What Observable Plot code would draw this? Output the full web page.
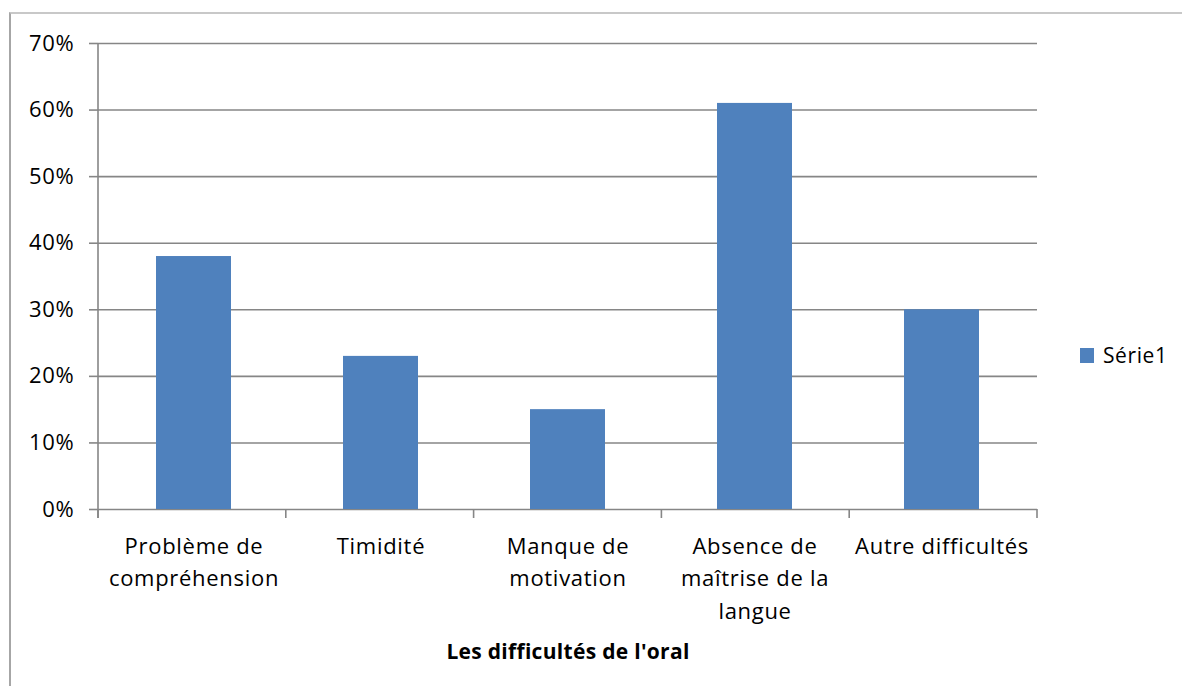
<!DOCTYPE html>
<html>
<head>
<meta charset="utf-8">
<script src="https://cdn.jsdelivr.net/npm/d3@7"></script>
<script src="https://cdn.jsdelivr.net/npm/@observablehq/plot@0.6"></script>
<style>
  html, body { margin: 0; padding: 0; background: #fff; }
  #wrap { position: relative; width: 1182px; height: 686px; overflow: hidden; font-family: "Open Sans", sans-serif; }
  #border { position: absolute; left: 9px; top: 12px; right: -5px; bottom: -5px; border-top: 2px solid #c8c8c8; border-left: 2px solid #a6a6a6; }
  #chart { position: absolute; left: 0; top: 0; }
  #legend { position: absolute; left: 1080px; top: 341px; display: flex; align-items: center; font-size: 21px; letter-spacing: 0.6px; color: #000; }
  #legend .sw { width: 14px; height: 15px; background: #4f81bd; margin-right: 9px; }
  .xtitle text { letter-spacing: 0.3px; }
</style>
</head>
<body>
<div id="wrap">
  <div id="border"></div>
  <div id="chart"></div>
  <div id="legend"></div>
</div>
<script>
const categories = ["Problème de compréhension", "Timidité", "Manque de motivation", "Absence de maîtrise de la langue", "Autre difficultés"];
const tickLabels = ["Problème de\ncompréhension", "Timidité", "Manque de\nmotivation", "Absence de\nmaîtrise de la\nlangue", "Autre difficultés"];
const values = [0.38, 0.23, 0.15, 0.61, 0.30];
const yTicks = [0, 0.1, 0.2, 0.3, 0.4, 0.5, 0.6, 0.7];
const seriesName = "Série1";
const xTitle = "Les difficultés de l'oral";
const barColor = "#4f81bd";

const data = categories.map((c, i) => ({category: c, value: values[i]}));
const labelOf = new Map(categories.map((c, i) => [c, tickLabels[i]]));

const chart = Plot.plot({
  width: 1182,
  height: 686,
  marginLeft: 98,
  marginRight: 145,
  marginTop: 43,
  marginBottom: 177,
  style: {fontFamily: "'Open Sans', sans-serif", fontSize: "21px", letterSpacing: "0.7px", color: "#000", background: "transparent", overflow: "visible"},
  x: {domain: categories, paddingInner: 0.6, paddingOuter: 0.3},
  y: {domain: [0, 0.7]},
  marks: [
    Plot.ruleY(yTicks, {stroke: "#868686", strokeWidth: 1.6}),
    Plot.barY(data, {x: "category", y: "value", fill: barColor}),
    Plot.axisY({ticks: yTicks, tickFormat: d => Math.round(d * 100) + "%", tickSize: 9, tickPadding: 15, stroke: "#868686", strokeWidth: 1.6, label: null, fontSize: 22, fill: "#000"}),
    Plot.axisX({tickFormat: d => labelOf.get(d), tickSize: 0, tickPadding: 21, lineHeight: 1.48, label: null, fontSize: 22, fill: "#000"}),
    Plot.text([xTitle], {frameAnchor: "bottom", dy: 149, text: d => d, fontSize: 21, fontWeight: "bold", fill: "#000", className: "xtitle"})
  ]
});

// axis line and category boundary ticks from the chart's own scales
const xs = chart.scale("x"), ys = chart.scale("y");
const [x0, x1] = xs.range;
const yBottom = ys.apply(0), yTop = ys.apply(0.7);
const g = d3.select(chart).append("g").attr("stroke", "#868686").attr("stroke-width", 1.6);
g.append("line").attr("x1", x0).attr("x2", x0).attr("y1", yTop).attr("y2", yBottom + 9);
const n = categories.length;
for (let i = 0; i <= n; i++) {
  const xi = x0 + (x1 - x0) * i / n;
  g.append("line").attr("x1", xi).attr("x2", xi).attr("y1", yBottom).attr("y2", yBottom + 9);
}
document.getElementById("chart").appendChild(chart);

const legend = document.getElementById("legend");
legend.innerHTML = `<div class="sw"></div><span>${seriesName}</span>`;
</script>
</body>
</html>
